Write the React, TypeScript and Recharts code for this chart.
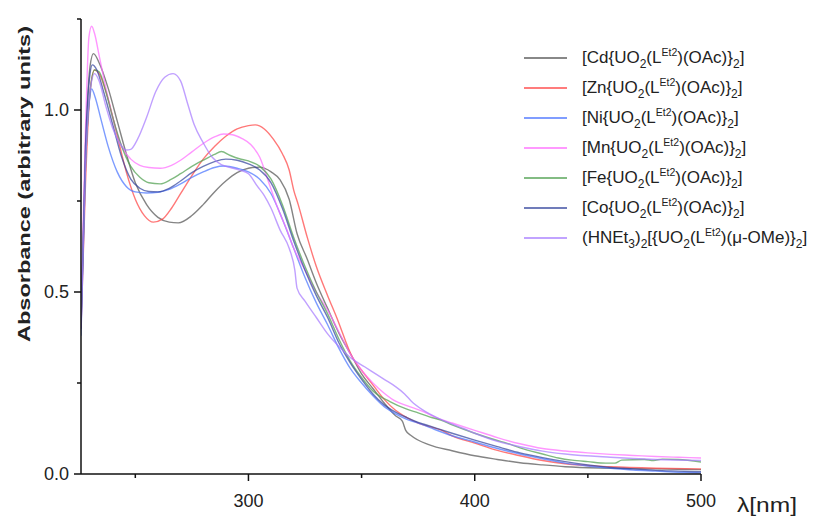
import React from 'react';
import { LineChart, Line, XAxis, YAxis } from 'recharts';

type Pt = [number, number];

// [wavelength nm, absorbance]
const cdSpectrum: Pt[] = [
  [226, 0.42], [228, 0.9], [230, 1.12], [231.5, 1.155], [234, 1.13], [238, 1.06], [242, 0.97], [246, 0.88],
  [250, 0.8], [255, 0.74], [260, 0.705], [265, 0.692], [269, 0.69], [275, 0.71], [280, 0.74], [285, 0.775],
  [290, 0.805], [295, 0.828], [300, 0.84], [305, 0.843], [310, 0.83], [314, 0.808], [318, 0.755], [321.5, 0.66],
  [326, 0.59], [330, 0.525], [335, 0.455], [340, 0.387], [346, 0.32], [350, 0.275], [355, 0.235], [360, 0.195],
  [365, 0.16], [368, 0.145], [369.5, 0.12], [372, 0.105], [380, 0.08], [390, 0.064], [400, 0.05], [410, 0.04],
  [420, 0.031], [430, 0.025], [440, 0.02], [460, 0.016], [480, 0.014], [500, 0.012],
];
const znSpectrum: Pt[] = [
  [226, 0.4], [228, 0.8], [230, 1.05], [232, 1.11], [234, 1.1], [238, 1.03], [242, 0.93], [246, 0.83],
  [250, 0.755], [254, 0.71], [258, 0.692], [262, 0.7], [266, 0.73], [270, 0.77], [275, 0.82], [280, 0.865],
  [285, 0.9], [290, 0.928], [295, 0.948], [300, 0.957], [303, 0.959], [307, 0.948], [311, 0.92], [315, 0.88],
  [318, 0.835], [320, 0.78], [322, 0.74], [326, 0.65], [330, 0.57], [335, 0.49], [339, 0.43], [346, 0.32],
  [350, 0.285], [355, 0.245], [360, 0.205], [365, 0.175], [370, 0.155], [375, 0.14], [380, 0.13], [385, 0.121],
  [390, 0.105], [400, 0.085], [410, 0.065], [420, 0.05], [430, 0.037], [440, 0.028], [460, 0.02], [480, 0.016],
  [500, 0.014],
];
const niSpectrum: Pt[] = [
  [226, 0.38], [228, 0.85], [230, 1.04], [230.7, 1.058], [232, 1.04], [235, 0.97], [238, 0.9], [242, 0.83],
  [246, 0.79], [250, 0.775], [255, 0.772], [260, 0.774], [265, 0.782], [270, 0.797], [275, 0.815], [280, 0.83],
  [285, 0.842], [289, 0.846], [295, 0.84], [300, 0.83], [305, 0.81], [310, 0.77], [315, 0.7], [320, 0.62],
  [325, 0.54], [330, 0.47], [335, 0.41], [340, 0.345], [345, 0.29], [350, 0.25], [355, 0.215], [360, 0.185],
  [365, 0.165], [370, 0.15], [375, 0.14], [380, 0.128], [390, 0.105], [400, 0.088], [410, 0.07], [420, 0.055],
  [430, 0.042], [440, 0.03], [450, 0.022], [460, 0.016], [470, 0.011], [480, 0.008], [490, 0.005], [500, 0.003],
];
const mnSpectrum: Pt[] = [
  [226, 0.45], [228, 0.95], [229.5, 1.2], [230.7, 1.23], [232, 1.21], [234, 1.15], [237, 1.06], [240, 0.98],
  [244, 0.9], [248, 0.865], [252, 0.848], [256, 0.842], [261, 0.84], [266, 0.848], [270, 0.862], [275, 0.885],
  [280, 0.908], [285, 0.926], [289, 0.934], [293, 0.932], [297, 0.922], [301, 0.905], [305, 0.87], [309, 0.8],
  [313, 0.73], [317, 0.67], [320, 0.62], [325, 0.56], [330, 0.5], [335, 0.45], [340, 0.39], [345, 0.33],
  [350, 0.285], [355, 0.25], [360, 0.222], [365, 0.2], [370, 0.188], [377, 0.172], [385, 0.15], [390, 0.14],
  [400, 0.12], [410, 0.1], [420, 0.083], [430, 0.07], [440, 0.063], [450, 0.058], [460, 0.054], [470, 0.051],
  [480, 0.048], [490, 0.046], [500, 0.044],
];
const feSpectrum: Pt[] = [
  [226, 0.42], [228, 0.85], [230, 1.05], [232, 1.11], [234, 1.105], [237, 1.05], [240, 0.98], [244, 0.9],
  [248, 0.845], [252, 0.815], [256, 0.8], [261, 0.797], [266, 0.81], [270, 0.825], [275, 0.845], [280, 0.862],
  [285, 0.878], [288, 0.886], [292, 0.875], [296, 0.866], [300, 0.86], [305, 0.845], [310, 0.81], [315, 0.74],
  [320, 0.65], [325, 0.57], [330, 0.5], [335, 0.44], [340, 0.37], [345, 0.31], [350, 0.265], [355, 0.228],
  [362.5, 0.199], [370, 0.178], [375, 0.168], [380, 0.157], [385, 0.148], [390, 0.135], [400, 0.112],
  [410, 0.092], [414, 0.085], [420, 0.072], [430, 0.055], [437, 0.044], [443, 0.038], [450, 0.034], [458, 0.03],
  [462, 0.03], [465, 0.038], [475, 0.04], [479, 0.037], [483, 0.041], [490, 0.04], [500, 0.033],
];
const coSpectrum: Pt[] = [
  [226, 0.4], [228, 0.9], [230, 1.1], [231, 1.124], [233, 1.11], [236, 1.05], [240, 0.96], [244, 0.87],
  [248, 0.81], [252, 0.785], [256, 0.776], [260, 0.775], [265, 0.785], [270, 0.805], [275, 0.828], [280, 0.845],
  [285, 0.858], [290, 0.865], [295, 0.862], [300, 0.852], [305, 0.835], [310, 0.8], [315, 0.73], [320, 0.64],
  [325, 0.56], [330, 0.49], [335, 0.43], [340, 0.36], [345, 0.305], [350, 0.26], [355, 0.22], [360, 0.19],
  [365, 0.17], [370, 0.155], [375, 0.142], [380, 0.132], [390, 0.112], [400, 0.093], [410, 0.075], [420, 0.058],
  [430, 0.045], [440, 0.034], [450, 0.025], [460, 0.018], [470, 0.014], [480, 0.01], [490, 0.008], [500, 0.006],
];
const hnetSpectrum: Pt[] = [
  [226, 0.4], [228, 0.85], [230, 1.05], [232, 1.1], [234, 1.08], [237, 1.01], [240, 0.95], [243, 0.91],
  [246, 0.89], [248, 0.892], [251, 0.92], [255, 0.98], [259, 1.05], [263, 1.09], [266.7, 1.1], [270, 1.08],
  [273, 1.02], [276, 0.96], [280, 0.91], [284, 0.87], [288, 0.85], [292, 0.842], [296, 0.835], [300, 0.825],
  [304, 0.79], [307, 0.765], [310, 0.73], [314, 0.67], [318, 0.62], [320.5, 0.56], [321.5, 0.51], [325, 0.475],
  [330, 0.43], [335, 0.385], [340, 0.35], [345, 0.32], [351.5, 0.294], [355, 0.28], [360, 0.26], [365, 0.24],
  [369, 0.22], [372, 0.2], [377, 0.176], [385, 0.15], [395, 0.125], [400, 0.112], [410, 0.09], [420, 0.075],
  [430, 0.063], [440, 0.055], [460, 0.046], [480, 0.04], [500, 0.037],
];

const xTicks = [250, 300, 350, 400, 450, 500];
const yTicks = [0, 0.25, 0.5, 0.75, 1.0, 1.25];

const series = [
  { key: 'cd', metal: 'Cd', data: cdSpectrum, color: '#555555' },
  { key: 'zn', metal: 'Zn', data: znSpectrum, color: '#ff4444' },
  { key: 'ni', metal: 'Ni', data: niSpectrum, color: '#4a74ff' },
  { key: 'mn', metal: 'Mn', data: mnSpectrum, color: '#ff6eff' },
  { key: 'fe', metal: 'Fe', data: feSpectrum, color: '#4f9f4f' },
  { key: 'co', metal: 'Co', data: coSpectrum, color: '#33449c' },
  { key: 'hnet', metal: '', data: hnetSpectrum, color: '#a77cff' },
];

const FONT = 'Arial, "Liberation Sans", sans-serif';
const sub = { fontSize: 12, position: 'relative', top: 5 } as const;
const sup = { fontSize: 10.5, position: 'relative', top: -7 } as const;

function complexLabel(metal: string) {
  if (!metal) {
    return (
      <span>
        (HNEt<span style={sub}>3</span>)<span style={sub}>2</span>[{'{'}UO<span style={sub}>2</span>(L
        <span style={sup}>Et2</span>)(μ-OMe){'}'}<span style={sub}>2</span>]
      </span>
    );
  }
  return (
    <span>
      [{metal}{'{'}UO<span style={sub}>2</span>(L<span style={sup}>Et2</span>)(OAc){'}'}
      <span style={sub}>2</span>]
    </span>
  );
}

const LegendBox = () => (
  <div style={{ position: 'absolute', left: 524, top: 43, fontFamily: FONT, fontSize: 17, color: '#222' }}>
    {series.map((s) => (
      <div key={s.key} style={{ display: 'flex', alignItems: 'center', height: 30, whiteSpace: 'nowrap' }}>
        <div style={{ width: 43, height: 0, borderTop: `2px solid ${s.color}`, opacity: 0.7, marginRight: 15 }} />
        {complexLabel(s.metal)}
      </div>
    ))}
  </div>
);

const XTick = (props: any) => {
  const { x, y, payload } = props;
  const major = payload.value % 100 === 0;
  return (
    <g>
      <line x1={x} x2={x} y1={y} y2={y + (major ? 7 : 4)} stroke='#111' strokeWidth={1.5} />
      {major && (
        <text x={x} y={y + 33} textAnchor='middle' fontSize={18} fontFamily={FONT} fill='#222'>
          {payload.value}
        </text>
      )}
    </g>
  );
};

const YTick = (props: any) => {
  const { x, y, payload } = props;
  const major = Math.round(payload.value * 100) % 50 === 0 && payload.value < 1.2;
  return (
    <g>
      <line x1={x} x2={x - (major ? 7 : 4)} y1={y} y2={y} stroke='#111' strokeWidth={1.5} />
      {major && (
        <text x={x - 12} y={y + 6} textAnchor='end' fontSize={18} fontFamily={FONT} fill='#222'>
          {payload.value.toFixed(1)}
        </text>
      )}
    </g>
  );
};

export default function App() {
  return (
    <div style={{ position: 'absolute', left: 0, top: 0, width: 822, height: 516, background: '#fff' }}>
      <LineChart width={822} height={516} margin={{ top: 19, right: 121, bottom: 12, left: 21 }}>
        <XAxis
          type='number'
          dataKey='x'
          domain={[226, 500]}
          ticks={xTicks}
          allowDataOverflow
          height={30}
          tickSize={0}
          tickMargin={0}
          tickLine={false}
          tick={<XTick />}
          axisLine={{ stroke: '#111', strokeWidth: 1.5 }}
        />
        <YAxis
          type='number'
          domain={[0, 1.25]}
          ticks={yTicks}
          allowDataOverflow
          width={60}
          tickSize={0}
          tickMargin={0}
          tickLine={false}
          tick={<YTick />}
          axisLine={{ stroke: '#111', strokeWidth: 1.5 }}
        />
        {series.map((s) => (
          <Line
            key={s.key}
            data={s.data.map(([x, y]) => ({ x, y }))}
            dataKey='y'
            type='monotone'
            stroke={s.color}
            strokeWidth={1.4}
            strokeOpacity={0.72}
            dot={false}
            activeDot={false}
            isAnimationActive={false}
          />
        ))}
        <text
          transform='translate(24,184) rotate(-90)'
          textAnchor='middle'
          dominantBaseline='central'
          fontSize={17}
          fontWeight='bold'
          fontFamily={FONT}
          textLength={316}
          lengthAdjust='spacingAndGlyphs'
          fill='#222'
        >
          Absorbance (arbitrary units)
        </text>
        <text x={737} y={512} fontSize={21} fontFamily={FONT} fill='#222' textLength={60} lengthAdjust='spacingAndGlyphs'>
          λ[nm]
        </text>
      </LineChart>
      <LegendBox />
    </div>
  );
}
